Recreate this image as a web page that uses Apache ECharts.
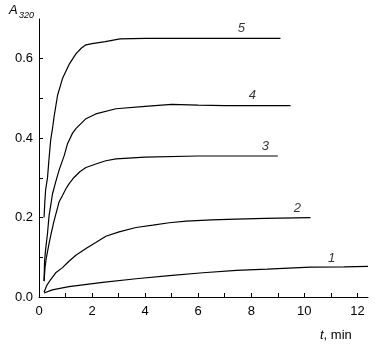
<!DOCTYPE html>
<html><head><meta charset="utf-8">
<script src="https://cdn.jsdelivr.net/npm/echarts@6/dist/echarts.min.js"></script>
<style>html,body{margin:0;padding:0;background:#fff}#c{width:376px;height:351px}</style>
</head><body><div id="c"></div>
<script>
// Curve 1
const t1 = [0.19, 0.5, 1.13, 2.4, 3.66, 4.91, 6.18, 7.44, 8.6, 10.23, 11.5, 12.4];
const a1 = [0.01, 0.018, 0.026, 0.037, 0.046, 0.054, 0.061, 0.067, 0.07, 0.075, 0.076, 0.077];
// Curve 2
const t2 = [0.19, 0.3, 0.44, 0.63, 0.885, 1.13, 1.39, 1.77, 2.14, 2.52, 3.02, 3.66, 4.29, 4.91, 5.55, 6.5, 7.44, 8.5, 10.23];
const a2 = [0.012, 0.03, 0.044, 0.061, 0.074, 0.09, 0.105, 0.122, 0.137, 0.153, 0.164, 0.175, 0.181, 0.187, 0.191, 0.194, 0.196, 0.198, 0.2];
// Curve 3
const t3 = [0.19, 0.23, 0.28, 0.38, 0.46, 0.56, 0.66, 0.76, 0.88, 1.01, 1.13, 1.32, 1.55, 1.77, 2.14, 2.52, 2.9, 4, 6, 9.0];
const a3 = [0.04, 0.077, 0.10, 0.135, 0.16, 0.19, 0.215, 0.24, 0.255, 0.272, 0.285, 0.301, 0.316, 0.326, 0.335, 0.343, 0.348, 0.352, 0.355, 0.355];
// Curve 4
const t4 = [0.19, 0.21, 0.25, 0.32, 0.38, 0.44, 0.51, 0.63, 0.76, 0.95, 1.07, 1.26, 1.39, 1.77, 2.14, 2.9, 4, 5, 6, 7, 8, 9.48];
const a4 = [0.04, 0.09, 0.12, 0.16, 0.205, 0.23, 0.26, 0.29, 0.32, 0.356, 0.385, 0.412, 0.424, 0.449, 0.461, 0.474, 0.48, 0.485, 0.483, 0.482, 0.482, 0.482];
// Curve 5
const t5 = [0.19, 0.22, 0.25, 0.32, 0.38, 0.44, 0.51, 0.57, 0.70, 0.885, 1.13, 1.39, 1.6, 1.77, 2.0, 2.5, 3.05, 4, 6, 8, 9.1];
const a5 = [0.20, 0.24, 0.27, 0.30, 0.35, 0.395, 0.425, 0.455, 0.508, 0.55, 0.585, 0.612, 0.627, 0.635, 0.638, 0.643, 0.650, 0.651, 0.651, 0.651, 0.651];
// Curve number labels
const labelText = ['1', '2', '3', '4', '5'];
const labelT = [11.03, 9.74, 8.53, 8.04, 7.63];
const labelA = [0.097, 0.223, 0.380, 0.507, 0.677];
// Ticks
const xLabels = [0, 2, 4, 6, 8, 10, 12];
const xTicks = [1, 2, 3, 4, 5, 6, 7, 8, 9, 10, 11, 12];
const yLabels = [0, 0.2, 0.4, 0.6];
const yTicks = [0.1, 0.2, 0.3, 0.4, 0.5, 0.6];

const zip = (t, a) => t.map((v, i) => [v, a[i]]);
const curves = [[t1, a1], [t2, a2], [t3, a3], [t4, a4], [t5, a5]];
const font = '"Liberation Sans", Arial, sans-serif';

const chart = echarts.init(document.getElementById('c'), null, {renderer: 'canvas'});
chart.setOption({
  animation: false,
  backgroundColor: '#fff',
  grid: {left: 39, right: 8, top: 19, bottom: 54},
  xAxis: {
    type: 'value', min: 0, max: 12.4,
    axisLine: {show: true, lineStyle: {color: '#000', width: 1}},
    axisTick: {show: true, inside: true, length: 4, lineStyle: {color: '#000'}, customValues: xTicks},
    axisLabel: {customValues: xLabels, color: '#000', fontSize: 13, fontFamily: font, margin: 8},
    splitLine: {show: false}
  },
  yAxis: {
    type: 'value', min: 0, max: 0.7,
    axisLine: {show: true, lineStyle: {color: '#000', width: 1}},
    axisTick: {show: true, inside: true, length: 4, lineStyle: {color: '#000'}, customValues: yTicks},
    axisLabel: {customValues: yLabels, color: '#000', fontSize: 13, fontFamily: font, margin: 6,
      formatter: v => v.toFixed(1)},
    splitLine: {show: false}
  },
  series: curves.map(c => ({
    type: 'line', data: zip(c[0], c[1]), showSymbol: false, smooth: false,
    lineStyle: {color: '#000', width: 1.2}
  })).concat([{
    type: 'scatter', symbolSize: 0,
    data: labelText.map((s, i) => ({name: s, value: [labelT[i], labelA[i]]})),
    label: {show: true, position: 'inside', formatter: p => p.name, color: '#000',
      fontSize: 13, fontStyle: 'italic', fontFamily: font}
  }]),
  graphic: [
    {type: 'text', left: 9, top: 4, style: {text: 'A', fontSize: 13, fontStyle: 'italic', fontFamily: font, fill: '#000'}},
    {type: 'text', left: 19, top: 11, style: {text: '320', fontSize: 9, fontStyle: 'italic', fontFamily: font, fill: '#000'}},
    {type: 'text', left: 320, top: 329, style: {
      rich: {i: {fontStyle: 'italic', fontSize: 13, fontFamily: font, fill: '#000'},
             n: {fontSize: 13, fontFamily: font, fill: '#000'}},
      text: '{i|t}{n|, min}'}}
  ]
});
</script>
</body></html>
